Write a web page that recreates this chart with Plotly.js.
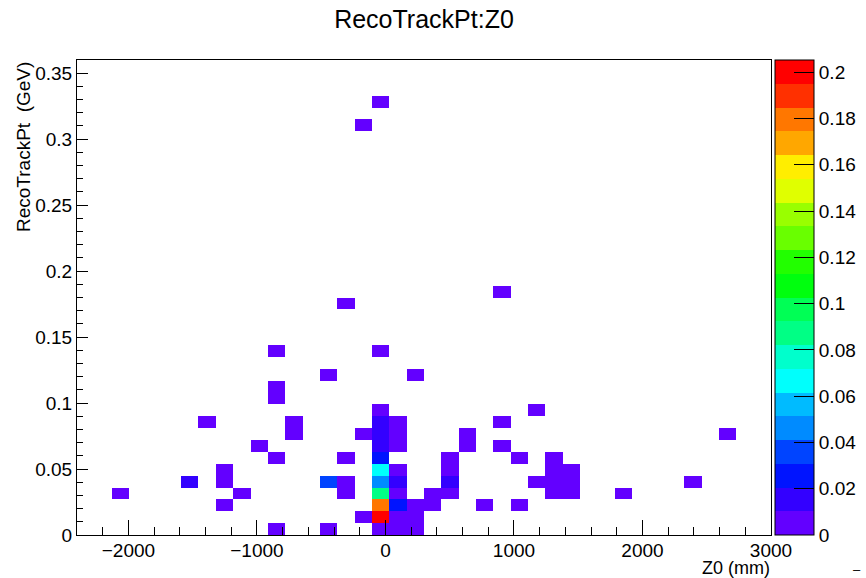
<!DOCTYPE html>
<html>
<head>
<meta charset="utf-8">
<script src="https://cdn.plot.ly/plotly-3.0.1.min.js"></script>
<style>html,body{margin:0;padding:0;background:#fff}</style>
</head>
<body>
<div id="chart" style="width:866px;height:578px"></div>
<script>
// ---- data: non-empty bins of the RecoTrackPt:Z0 histogram (bin centres) ----
const z0mm = [
  -2062.5, -1522.5, -1387.5, -1252.5, -1252.5, -1252.5, -1117.5, -982.5,
  -847.5, -847.5, -847.5, -847.5, -847.5, -712.5, -712.5,
  -442.5, -442.5, -442.5, -307.5, -307.5, -307.5, -307.5,
  -172.5, -172.5, -172.5,
  -37.5, -37.5, -37.5, -37.5, -37.5, -37.5, -37.5, -37.5, -37.5, -37.5, -37.5, -37.5, -37.5,
  97.5, 97.5, 97.5, 97.5, 97.5, 97.5, 97.5, 97.5, 97.5,
  232.5, 232.5, 232.5, 232.5, 367.5, 367.5,
  502.5, 502.5, 502.5, 502.5, 637.5, 637.5, 772.5,
  907.5, 907.5, 907.5, 1042.5, 1042.5, 1177.5, 1177.5,
  1312.5, 1312.5, 1312.5, 1312.5, 1447.5, 1447.5, 1447.5,
  1852.5, 2392.5, 2662.5
];
const ptGeV = [
  0.0315, 0.0405, 0.0855, 0.0225, 0.0405, 0.0495, 0.0315, 0.0675,
  0.0045, 0.0585, 0.1035, 0.1125, 0.1395, 0.0765, 0.0855,
  0.0045, 0.0405, 0.1215, 0.0315, 0.0405, 0.0585, 0.1755,
  0.0135, 0.0765, 0.3105,
  0.0045, 0.0135, 0.0225, 0.0315, 0.0405, 0.0495, 0.0585, 0.0675, 0.0765, 0.0855, 0.0945, 0.1395, 0.3285,
  0.0045, 0.0135, 0.0225, 0.0315, 0.0405, 0.0495, 0.0675, 0.0765, 0.0855,
  0.0045, 0.0135, 0.0225, 0.1215, 0.0225, 0.0315,
  0.0315, 0.0405, 0.0495, 0.0585, 0.0675, 0.0765, 0.0225,
  0.0675, 0.0855, 0.1845, 0.0225, 0.0585, 0.0405, 0.0945,
  0.0315, 0.0405, 0.0495, 0.0585, 0.0315, 0.0405, 0.0495,
  0.0315, 0.0405, 0.0765
];
const binContent = [
  0.005, 0.015, 0.005, 0.005, 0.005, 0.005, 0.005, 0.005,
  0.005, 0.005, 0.005, 0.005, 0.005, 0.005, 0.005,
  0.005, 0.035, 0.005, 0.005, 0.005, 0.005, 0.005,
  0.005, 0.005, 0.005,
  0.005, 0.200, 0.180, 0.085, 0.045, 0.065, 0.025, 0.015, 0.015, 0.015, 0.005, 0.005, 0.005,
  0.005, 0.005, 0.025, 0.005, 0.015, 0.005, 0.005, 0.005, 0.005,
  0.005, 0.005, 0.005, 0.005, 0.005, 0.005,
  0.005, 0.015, 0.005, 0.005, 0.005, 0.005, 0.005,
  0.005, 0.005, 0.005, 0.005, 0.005, 0.005, 0.005,
  0.005, 0.005, 0.005, 0.005, 0.005, 0.005, 0.005,
  0.005, 0.005, 0.005
];

// ---- tick labels ----
const xTickVals = [-2000, -1000, 0, 1000, 2000, 3000];
const xTickText = ['\u22122000', '\u22121000', '0', '1000', '2000', '3000'];
const yTickVals = [0, 0.05, 0.1, 0.15, 0.2, 0.25, 0.3, 0.35];
const yTickText = ['0', '0.05', '0.1', '0.15', '0.2', '0.25', '0.3', '0.35'];
const zTickVals = [0, 0.02, 0.04, 0.06, 0.08, 0.1, 0.12, 0.14, 0.16, 0.18, 0.2];
const zTickText = ['0', '0.02', '0.04', '0.06', '0.08', '0.1', '0.12', '0.14', '0.16', '0.18', '0.2'];

// ---- histogram binning (ROOT default 40 x 40) ----
const nBinsX = 40, nBinsY = 40;
const xLow = -2400, xHigh = 3000, yLow = 0, yHigh = 0.36;
const zMax = 0.2053;

// ROOT "pretty palette" (hue 280 -> 0), 20 contour levels
const palette = ['#6300ff','#3300ff','#0014ff','#0044ff','#008bff','#00bbff','#00fffc','#00ffcc',
  '#00ff85','#00ff55','#00ff0e','#22ff00','#69ff00','#99ff00','#e0ff00','#ffee00',
  '#ffa700','#ff7700','#ff3000','#ff0000'];
const colorscale = [];
palette.forEach((c, k) => {
  colorscale.push([k / palette.length, c]);
  colorscale.push([(k + 1) / palette.length, c]);
});

const bw = (xHigh - xLow) / nBinsX, bh = (yHigh - yLow) / nBinsY;
const grid = Array.from({length: nBinsY}, () => Array(nBinsX).fill(null));
for (let i = 0; i < z0mm.length; i++) {
  const ix = Math.floor((z0mm[i] - xLow) / bw);
  const iy = Math.floor((ptGeV[i] - yLow) / bh);
  grid[iy][ix] = (grid[iy][ix] || 0) + binContent[i];
}

const font = 'Liberation Sans, Arial, Helvetica, sans-serif';

const trace = {
  type: 'heatmap',
  z: grid,
  x0: xLow + bw / 2, dx: bw,
  y0: yLow + bh / 2, dy: bh,
  zmin: 0, zmax: zMax,
  colorscale: colorscale,
  hoverinfo: 'skip',
  colorbar: {
    x: (775 - 77) / 694, xanchor: 'left', xref: 'paper',
    y: 0.5, yanchor: 'middle', len: 1, lenmode: 'fraction',
    thickness: 39, thicknessmode: 'pixels',
    xpad: 0, ypad: 0,
    outlinewidth: 1, outlinecolor: '#000',
    ticks: 'inside', ticklen: 20, tickwidth: 1, tickcolor: '#000',
    tickmode: 'array', tickvals: zTickVals, ticktext: zTickText,
    tickfont: {family: font, size: 19, color: '#000'}
  }
};

const layout = {
  width: 866, height: 578,
  margin: {l: 77, r: 95, t: 60, b: 43, pad: 0, autoexpand: false},
  paper_bgcolor: '#fff', plot_bgcolor: '#fff',
  showlegend: false,
  title: {
    text: 'RecoTrackPt:Z0',
    font: {family: font, size: 25, color: '#000'},
    x: 0.5, xref: 'paper', xanchor: 'center',
    y: 1 - 19 / 578, yref: 'container', yanchor: 'middle'
  },
  xaxis: {
    range: [xLow, xHigh], showgrid: false, zeroline: false,
    showline: true, linecolor: '#000', linewidth: 1, mirror: true,
    ticks: 'inside', ticklen: 15, tickwidth: 1, tickcolor: '#000',
    tickmode: 'array', tickvals: xTickVals, ticktext: xTickText,
    tickfont: {family: font, size: 19, color: '#000'},
    ticklabelstandoff: -2,
    minor: {tickmode: 'linear', tick0: 0, dtick: 200, ticks: 'inside', ticklen: 8, tickcolor: '#000', showgrid: false}
  },
  yaxis: {
    range: [yLow, yHigh], showgrid: false, zeroline: false,
    showline: true, linecolor: '#000', linewidth: 1, mirror: true,
    ticks: 'inside', ticklen: 11, tickwidth: 1, tickcolor: '#000',
    tickmode: 'array', tickvals: yTickVals, ticktext: yTickText,
    tickfont: {family: font, size: 19, color: '#000'},
    minor: {tickmode: 'linear', tick0: 0, dtick: 0.01, ticks: 'inside', ticklen: 6, tickcolor: '#000', showgrid: false}
  },
  annotations: [
    {text: 'Z0 (mm)', xref: 'paper', yref: 'paper', x: 1, xanchor: 'right',
     y: (535 - 579) / 475, yanchor: 'bottom', showarrow: false, borderpad: 0,
     font: {family: font, size: 18, color: '#000'}},
    {text: 'RecoTrackPt  (GeV)', xref: 'paper', yref: 'paper', textangle: -90,
     x: (23 - 77) / 694, xanchor: 'center', y: 1, yanchor: 'top', showarrow: false,
     font: {family: font, size: 19, color: '#000'}},
    {text: '\u2013', xref: 'paper', yref: 'paper', x: (862 - 77) / 694, xanchor: 'right',
     y: (535 - 569) / 475, yanchor: 'middle', showarrow: false, borderpad: 0,
     font: {family: font, size: 13, color: '#000'}}
  ]
};

Plotly.newPlot('chart', [trace], layout, {displayModeBar: false, staticPlot: true});
</script>
</body>
</html>
